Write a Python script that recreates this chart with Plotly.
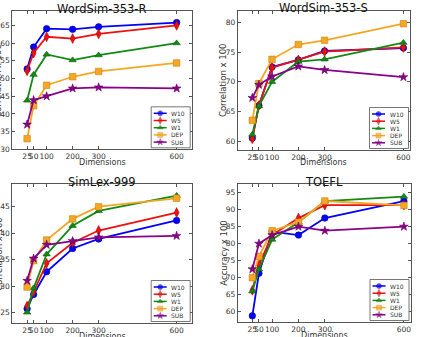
import plotly.graph_objects as go

W, H = 422, 337

dims = [25, 50, 100, 200, 300, 600]
dim_labels = ["25", "50", "100", "200", "300", "600"]
series_names = ["W10", "W5", "W1", "DEP", "SUB"]

ws353r_W10 = [52.7, 58.9, 64.1, 63.9, 64.6, 65.8]
ws353r_W5 = [52.2, 57.2, 61.8, 61.3, 62.6, 65.0]
ws353r_W1 = [43.8, 51.1, 56.8, 55.2, 56.6, 60.0]
ws353r_DEP = [33.0, 42.3, 48.1, 50.5, 52.0, 54.4]
ws353r_SUB = [37.0, 43.9, 45.0, 47.2, 47.5, 47.2]

ws353s_W10 = [60.5, 66.0, 72.5, 73.7, 75.2, 75.7]
ws353s_W5 = [60.4, 66.0, 72.4, 73.7, 75.1, 75.8]
ws353s_W1 = [61.1, 65.9, 70.0, 73.4, 73.8, 76.6]
ws353s_DEP = [63.5, 69.7, 73.8, 76.3, 77.0, 79.8]
ws353s_SUB = [67.3, 69.5, 70.9, 72.6, 72.0, 70.8]

simlex_W10 = [25.7, 28.4, 32.7, 37.1, 38.9, 42.4]
simlex_W5 = [26.2, 28.9, 34.3, 38.2, 40.5, 43.9]
simlex_W1 = [25.0, 29.6, 36.0, 41.4, 44.2, 47.1]
simlex_DEP = [29.8, 34.8, 38.7, 42.7, 45.0, 46.6]
simlex_SUB = [31.0, 35.2, 37.8, 38.5, 39.2, 39.5]

toefl_W10 = [58.8, 71.3, 83.5, 82.5, 87.5, 92.5]
toefl_W5 = [66.3, 73.8, 82.5, 87.5, 91.3, 91.3]
toefl_W1 = [66.0, 72.5, 81.2, 86.3, 92.5, 93.8]
toefl_DEP = [70.0, 76.3, 83.8, 86.3, 92.5, 91.2]
toefl_SUB = [72.5, 80.0, 82.5, 85.0, 83.8, 85.0]

panels = [
    dict(title="WordSim-353-R", ytitle="Correlation x 100",
         data=[ws353r_W10, ws353r_W5, ws353r_W1, ws353r_DEP, ws353r_SUB],
         box=(12.3, 191.7, 11.3, 149.3), xr=[-32, 658], yr=[30, 69], yt=[30, 35, 40, 45, 50, 55, 60, 65]),
    dict(title="WordSim-353-S", ytitle="Correlation x 100",
         data=[ws353s_W10, ws353s_W5, ws353s_W1, ws353s_DEP, ws353s_SUB],
         box=(237.7, 410, 10.7, 150), xr=[-30.6, 625], yr=[58.5, 82], yt=[60, 65, 70, 75, 80]),
    dict(title="SimLex-999", ytitle="Correlation x 100",
         data=[simlex_W10, simlex_W5, simlex_W1, simlex_DEP, simlex_SUB],
         box=(12.3, 191.7, 184, 323), xr=[-32, 658], yr=[23, 49.3], yt=[25, 30, 35, 40, 45]),
    dict(title="TOEFL", ytitle="Accuracy x 100",
         data=[toefl_W10, toefl_W5, toefl_W1, toefl_DEP, toefl_SUB],
         box=(237.7, 410.5, 184, 322), xr=[-30.6, 625], yr=[57, 97.5], yt=[60, 65, 70, 75, 80, 85, 90, 95]),
]

colors = ["#0000ff", "#ee1111", "#138a13", "#f5a623", "#8b008b"]
edge = ["#0000aa", "#aa0000", "#0a5a0a", "#c7841a", "#600060"]
symbols = ["circle", "diamond-tall", "triangle-up", "square", "star"]
sizes = [6.5, 7, 6.5, 6.5, 6.5]

FONT = "DejaVu Sans"
fig = go.Figure()
layout = dict(width=W, height=H, margin=dict(l=0, r=0, t=0, b=0),
              paper_bgcolor="white", plot_bgcolor="rgba(0,0,0,0)", showlegend=False,
              font=dict(family=FONT, size=7, color="#333"), template="none")
annotations = []
legend_traces = []

for i, p in enumerate(panels):
    n = i + 1
    xa = "xaxis" if n == 1 else f"xaxis{n}"
    ya = "yaxis" if n == 1 else f"yaxis{n}"
    xr_ = "x" if n == 1 else f"x{n}"
    yr_ = "y" if n == 1 else f"y{n}"
    x0, x1, y0, y1 = p["box"]
    layout[xa] = dict(domain=[x0 / W, x1 / W], range=p["xr"], anchor=yr_,
                      tickvals=dims, ticktext=dim_labels, tickangle=0,
                      showline=True, mirror="ticks", linecolor="#555", linewidth=1,
                      ticks="inside", ticklen=3, tickcolor="#555", showgrid=False,
                      zeroline=False, automargin=False, tickfont=dict(size=7.5, color="#333"))
    layout[ya] = dict(domain=[1 - y1 / H, 1 - y0 / H], range=p["yr"], anchor=xr_,
                      tickvals=p["yt"], showline=True, mirror="ticks", linecolor="#555",
                      linewidth=1, ticks="inside", ticklen=3, tickcolor="#555",
                      showgrid=False, zeroline=False, automargin=False,
                      tickfont=dict(size=7.5, color="#333"))
    for k, ys in enumerate(p["data"]):
        fig.add_trace(go.Scatter(x=dims, y=ys, xaxis=xr_, yaxis=yr_, mode="lines+markers",
                                 name=series_names[k],
                                 line=dict(color=colors[k], width=1.8),
                                 marker=dict(symbol=symbols[k], size=sizes[k], color=colors[k],
                                             line=dict(color=edge[k], width=0.6))))
    cx = (x0 + x1) / 2
    annotations.append(dict(text=p["title"], x=cx / W, y=1 - (y0 - 11.5) / H, xref="paper", yref="paper",
                            showarrow=False, xanchor="center", yanchor="top",
                            font=dict(size=11.5, color="#111", family=FONT)))
    annotations.append(dict(text="Dimensions", x=cx / W, y=1 - (y1 + 13) / H, xref="paper", yref="paper",
                            showarrow=False, xanchor="center", yanchor="middle",
                            font=dict(size=8, color="#333", family=FONT)))
    annotations.append(dict(text=p["ytitle"], x=(x0 - 14) / W, y=1 - ((y0 + y1) / 2) / H, xref="paper",
                            yref="paper", showarrow=False, xanchor="center", yanchor="middle", textangle=-90,
                            font=dict(size=8.5, color="#333", family=FONT)))
    # legend (drawn manually in pixel coordinates on a full-page helper axis)
    lx1 = x1 - 1.5
    lx0 = lx1 - 39
    ly1 = y1 - 1.5
    ly0 = ly1 - 41
    legend_traces.append(go.Scatter(x=[lx0, lx1, lx1, lx0, lx0], y=[ly0, ly0, ly1, ly1, ly0],
                                    xaxis="x9", yaxis="y9", mode="lines", fill="toself",
                                    fillcolor="white", line=dict(color="#555", width=0.8),
                                    hoverinfo="skip"))
    for k in range(5):
        yy = ly0 + 6.5 + k * 7.2
        legend_traces.append(go.Scatter(x=[lx0 + 2.5, lx0 + 9, lx0 + 15.5], y=[yy, yy, yy],
                                        xaxis="x9", yaxis="y9", mode="lines+markers", hoverinfo="skip",
                                        line=dict(color=colors[k], width=1.5),
                                        marker=dict(symbol=symbols[k], size=[0, sizes[k] - 1.5, 0],
                                                    color=colors[k], line=dict(color=edge[k], width=0.5))))
        annotations.append(dict(text=series_names[k], x=lx0 + 18, y=yy, xref="x9", yref="y9",
                                showarrow=False, xanchor="left", yanchor="middle",
                                font=dict(size=6, color="#333", family=FONT)))

for t in legend_traces:
    fig.add_trace(t)

layout["xaxis9"] = dict(domain=[0, 1], range=[0, W], visible=False, anchor="y9", automargin=False,
                        showgrid=False, zeroline=False)
layout["yaxis9"] = dict(domain=[0, 1], range=[H, 0], visible=False, anchor="x9", automargin=False,
                        showgrid=False, zeroline=False)
layout["annotations"] = annotations
fig.update_layout(**layout)
fig.write_html("out.html")
